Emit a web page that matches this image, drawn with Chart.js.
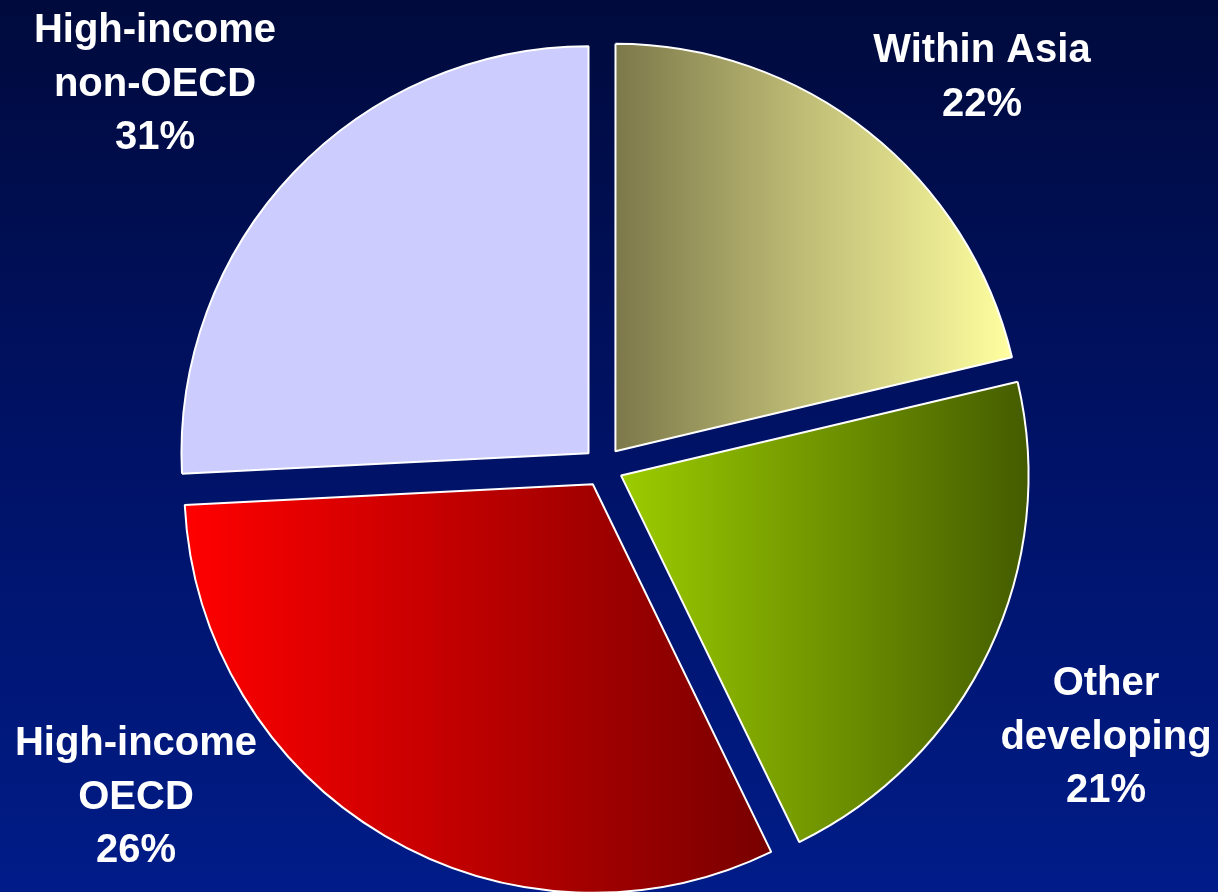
<!DOCTYPE html>
<html>
<head>
<meta charset="utf-8">
<script src="https://cdn.jsdelivr.net/npm/chart.js@4.4.0/dist/chart.umd.min.js"></script>
<style>
  html, body { margin: 0; padding: 0; overflow: hidden; background: #000a3c; }
  #wrap { position: relative; width: 1218px; height: 930px; }
</style>
</head>
<body>
<div id="wrap"><canvas id="myChart"></canvas></div>
<script>
// slices clockwise from 12 o'clock
const categories = ['Within Asia', 'Other developing', 'High-income OECD', 'High-income non-OECD'];
const nameLines = [['Within Asia'], ['Other', 'developing'], ['High-income', 'OECD'], ['High-income', 'non-OECD']];
// slice sizes as drawn in the picture (angles measured off the slices)
const shares = [21.3, 21.5, 31.4, 25.8];
// percentages as printed next to each slice
const shareText = ['22%', '21%', '26%', '31%'];

const OFFSET = 80; // chart.js shifts arcs by offset / 4
const BORDER = 2;

// colour stops per slice (left -> right); one stop = flat colour
const sliceStops = [
  [[0, '#7c784a'], [0.5, '#c2c078'], [1, '#ffffa0']],
  [[0, '#9ccc00'], [1, '#445c00']],
  [[0, '#ff0000'], [1, '#780000']],
  [[0, '#ccccff']]
];

// horizontal gradient across the x-extent of each slice (before the explode shift)
function sliceFill(c) {
  const stops = sliceStops[c.dataIndex] || [[0, '#888888']];
  const chart = c.chart;
  const ca = chart.chartArea;
  if (stops.length === 1 || !ca || c.type !== 'data') return stops[0][1];
  const total = shares.reduce((a, b) => a + b, 0);
  let start = -Math.PI / 2;
  for (let k = 0; k < c.dataIndex; k++) start += shares[k] / total * 2 * Math.PI;
  const end = start + shares[c.dataIndex] / total * 2 * Math.PI;
  const cx = (ca.left + ca.right) / 2;
  const R = (Math.min(ca.width, ca.height) - OFFSET - BORDER) / 2;
  let minX = 0, maxX = 0;
  for (let a = start; a <= end; a += 0.01) {
    const x = Math.cos(a) * R;
    minX = Math.min(minX, x); maxX = Math.max(maxX, x);
  }
  const ex = Math.cos(end) * R;
  minX = Math.min(minX, ex); maxX = Math.max(maxX, ex);
  const g = chart.ctx.createLinearGradient(cx + minX, 0, cx + maxX, 0);
  stops.forEach(([p, col]) => g.addColorStop(p, col));
  return g;
}

const bgPlugin = {
  id: 'slideBg',
  beforeDraw(chart) {
    const ctx = chart.ctx;
    const g = ctx.createLinearGradient(0, 0, 0, 892);
    g.addColorStop(0, '#000a3c');
    g.addColorStop(0.5, '#001266');
    g.addColorStop(1, '#001c88');
    ctx.save();
    ctx.fillStyle = g;
    ctx.fillRect(0, 0, chart.width, chart.height);
    ctx.restore();
  }
};

const labelPlugin = {
  id: 'sliceLabels',
  afterDatasetsDraw(chart, args, opts) {
    const ctx = chart.ctx;
    ctx.save();
    ctx.fillStyle = '#ffffff';
    ctx.font = 'bold 40px "Liberation Sans", Arial, sans-serif';
    ctx.textAlign = 'center';
    ctx.textBaseline = 'alphabetic';
    opts.anchors.forEach((a, i) => {
      const lines = nameLines[i].concat(shareText[i]);
      lines.forEach((t, j) => ctx.fillText(t, a.x, a.y + j * opts.lineHeight));
    });
    ctx.restore();
  }
};

new Chart(document.getElementById('myChart'), {
  type: 'pie',
  data: {
    labels: categories,
    datasets: [{
      data: shares,
      backgroundColor: sliceFill,
      borderColor: '#ffffff',
      borderWidth: BORDER,
      offset: OFFSET,
      hoverOffset: OFFSET
    }]
  },
  options: {
    responsive: true,
    maintainAspectRatio: false,
    animation: false,
    events: [],
    layout: { padding: { top: 19, bottom: 15, left: 0, right: 12 } },
    plugins: {
      legend: { display: false },
      tooltip: { enabled: false },
      sliceLabels: {
        anchors: [{ x: 982, y: 62 }, { x: 1106, y: 695 }, { x: 136, y: 755 }, { x: 155, y: 42 }],
        lineHeight: 53.5
      }
    }
  },
  plugins: [bgPlugin, labelPlugin]
});
</script>
</body>
</html>
